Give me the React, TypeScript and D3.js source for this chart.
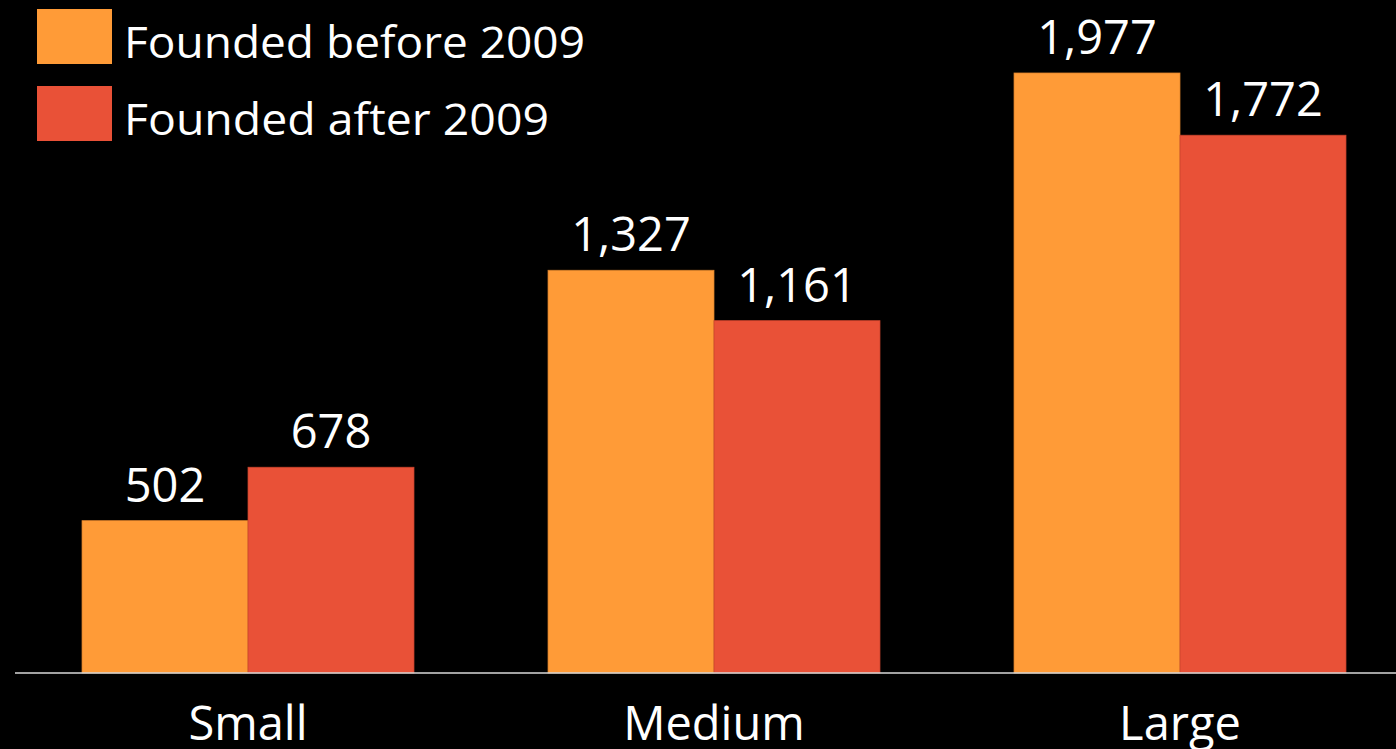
import React from "react";
import * as d3 from "d3";

const categories = ["Small", "Medium", "Large"];
const seriesNames = ["Founded before 2009", "Founded after 2009"];
const beforeValues = [502, 1327, 1977];
const afterValues = [678, 1161, 1772];
const colors = ["#FF9B37", "#E95137"];
const strokes = ["#D9802A", "#C8432C"];

const W = 1396;
const H = 749;
const FONT = "'Open Sans', 'Lato', sans-serif";

export default function App() {
  const x0 = d3
    .scaleBand<string>()
    .domain(categories)
    .range([15, 1413])
    .paddingInner(0.2876)
    .paddingOuter(0.1438);
  const x1 = d3
    .scaleBand<string>()
    .domain(seriesNames)
    .range([0, x0.bandwidth()])
    .padding(0);
  const y = d3.scaleLinear().domain([0, 2200]).range([673, 673 - 2200 * 0.3035]);
  const fmt = d3.format(",");
  const series = [beforeValues, afterValues];
  const legendLens = [461, 425];

  return (
    <svg
      width={W}
      height={H}
      style={{ position: "absolute", left: 0, top: 0, display: "block" }}
    >
      <rect x={0} y={0} width={W} height={H} fill="#000" />
      {categories.map((c, ci) => (
        <g key={c} transform={`translate(${x0(c)},0)`}>
          {seriesNames.map((s, si) => {
            const v = series[si][ci];
            const bx = x1(s)!;
            return (
              <g key={s}>
                <rect
                  x={bx}
                  y={y(v)}
                  width={x1.bandwidth()}
                  height={y(0) - y(v)}
                  fill={colors[si]}
                  stroke={strokes[si]}
                  strokeWidth={0.75}
                />
                <text
                  x={bx + x1.bandwidth() / 2}
                  y={y(v) - 19}
                  textAnchor="middle"
                  fill="#fff"
                  fontFamily={FONT}
                  fontSize={47}
                >
                  {fmt(v)}
                </text>
              </g>
            );
          })}
          <text
            x={x0.bandwidth() / 2}
            y={740}
            textAnchor="middle"
            fill="#fff"
            fontFamily={FONT}
            fontSize={47}
          >
            {c}
          </text>
        </g>
      ))}
      <line x1={15} x2={W} y1={673} y2={673} stroke="#D9D9D9" strokeWidth={1.5} />
      {seriesNames.map((s, si) => (
        <g key={s} transform={`translate(37,${9 + si * 77})`}>
          <rect x={0} y={0} width={75} height={55} fill={colors[si]} />
          <text
            x={87}
            y={49}
            fill="#fff"
            fontFamily={FONT}
            fontSize={44}
            textLength={legendLens[si]}
            lengthAdjust="spacingAndGlyphs"
          >
            {s}
          </text>
        </g>
      ))}
    </svg>
  );
}
